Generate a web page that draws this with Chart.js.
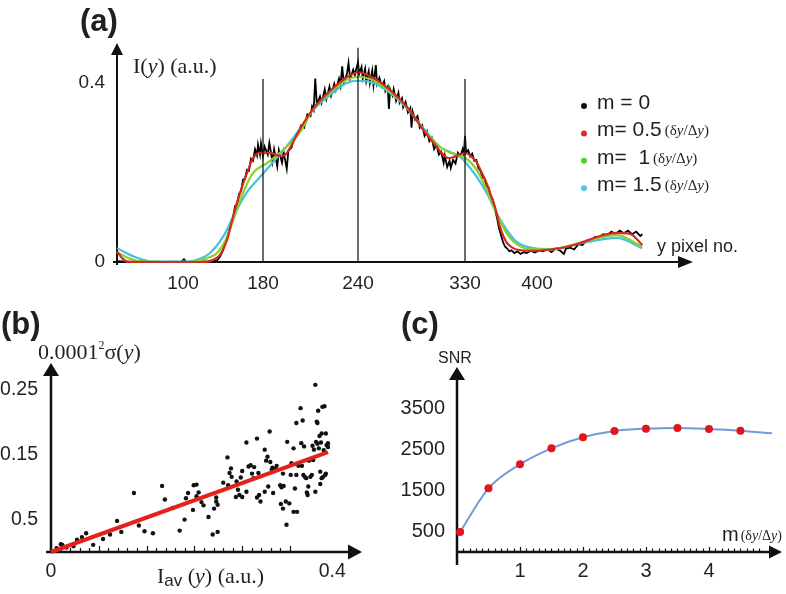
<!DOCTYPE html>
<html>
<head>
<meta charset="utf-8">
<title>Intensity profiles, noise and SNR</title>
<script src="https://cdn.jsdelivr.net/npm/chart.js@4.4.0/dist/chart.umd.min.js"></script>
<style>
  html, body { margin: 0; padding: 0; background: #fff; }
  #wrap { position: relative; width: 786px; height: 594px; overflow: hidden; }
  #wrap canvas { position: absolute; left: 0; top: 0; }
</style>
</head>
<body>
<div id="wrap">
  <canvas id="chartA" width="786" height="594"></canvas>
  <canvas id="chartB" width="786" height="594"></canvas>
  <canvas id="chartC" width="786" height="594"></canvas>
</div>
<script>
// ---------- panel (a) : intensity profile I(y) ----------
var aXTicks = [100, 180, 240, 330, 400];
var aYTicks = [0, 0.4];
var aYTickLabels = ['0', '0.4'];
var aLegendLabels = ['m = 0', 'm= 0.5', 'm=  1', 'm= 1.5'];
var aLegendUnit = [false, true, true, true];
var aMarkers = [180, 240, 330];
var aMarkerTops = [0.409, 0.479, 0.409];

// m = 0 (raw, noisy)
var aBlack = [
  [34,0.002],[42,0.001],[50,0],[58,0.002],[66,0],[74,0.001],[82,0],[90,0.001],[98,0],[101,0.006],
  [103,0.001],[110,0],[118,0.002],[124,0.001],[130,0.004],[134,0.003],[137,0.012],[140,0.026],[142,0.042],[144,0.055],
  [146,0.068],[148,0.090],[150,0.098],[152,0.125],[154,0.128],[156,0.152],[158,0.158],[160,0.184],[162,0.186],[164,0.206],
  [166,0.204],[168,0.231],[170,0.226],[172,0.252],[174,0.238],[175,0.262],[177,0.240],[178,0.265],[180,0.236],[181,0.258],
  [183,0.240],[184,0.266],[186,0.224],[187,0.252],[189,0.214],[190,0.250],[192,0.222],[193,0.246],[195,0.208],[196,0.248],
  [198,0.256],[200,0.280],[202,0.284],[204,0.305],[206,0.300],[208,0.330],[210,0.326],[211,0.348],[212,0.340],[213,0.410],
  [214,0.352],[216,0.370],[217,0.356],[219,0.386],[220,0.364],[222,0.392],[223,0.372],[225,0.398],[226,0.384],[228,0.410],
  [229,0.394],[230,0.437],[231,0.402],[233,0.420],[234,0.445],[235,0.410],[237,0.430],[238,0.418],[240,0.447],[241,0.420],
  [243,0.436],[244,0.410],[246,0.432],[247,0.404],[249,0.426],[250,0.400],[252,0.428],[253,0.396],[255,0.440],[256,0.398],
  [258,0.412],[260,0.392],[262,0.404],[263,0.382],[265,0.392],[266,0.342],[267,0.386],[269,0.372],[270,0.386],[272,0.360],
  [274,0.378],[275,0.356],[277,0.366],[278,0.346],[280,0.358],[282,0.334],[284,0.344],[285,0.300],[286,0.336],[288,0.318],
  [290,0.326],[292,0.300],[294,0.306],[296,0.282],[298,0.292],[300,0.270],[302,0.278],[304,0.252],[306,0.262],[308,0.240],
  [310,0.246],[312,0.222],[313,0.238],[315,0.212],[317,0.226],[318,0.210],[320,0.228],[322,0.220],[324,0.244],[326,0.236],
  [328,0.252],[329,0.240],[330,0.282],[331,0.244],[333,0.250],[335,0.236],[337,0.242],[339,0.226],[341,0.228],[343,0.210],
  [345,0.204],[347,0.190],[349,0.186],[351,0.170],[353,0.166],[355,0.146],[357,0.140],[359,0.118],[361,0.100],[363,0.076],
  [365,0.060],[367,0.044],[369,0.034],[371,0.030],[373,0.024],[375,0.026],[378,0.020],[381,0.024],[384,0.018],[387,0.022],
  [390,0.020],[394,0.025],[398,0.021],[402,0.026],[406,0.024],[410,0.029],[414,0.022],[418,0.030],[422,0.026],[426,0.018],
  [428,0.030],[432,0.032],[436,0.028],[440,0.040],[444,0.038],[448,0.048],[452,0.046],[456,0.056],[460,0.054],[464,0.062],
  [468,0.060],[472,0.068],[476,0.062],[480,0.070],[484,0.064],[488,0.070],[492,0.062],[496,0.068],[500,0.058],[502,0.062]
];
// m = 0.5
var aRed = [
  [34,0.024],[39,0.009],[44,0.001],[67,0],[117,0],[127,0.002],[132,0.007],[137,0.016],[144,0.049],[150,0.101],
  [157,0.154],[164,0.199],[170,0.232],[177,0.244],[184,0.244],[189,0.239],[193,0.237],[197,0.255],[203,0.295],[212,0.344],
  [222,0.381],[233,0.413],[240.5,0.424],[253,0.411],[267,0.384],[281,0.347],[295,0.295],[306,0.258],[312,0.239],[316,0.232],
  [320,0.234],[325,0.240],[331,0.243],[336,0.236],[341,0.224],[346,0.201],[351,0.176],[355,0.150],[359,0.124],[364,0.079],
  [370,0.045],[375,0.034],[380,0.028],[396,0.025],[413,0.028],[429,0.034],[445,0.045],[461,0.058],[477,0.065],[490,0.063],
  [502,0.038]
];
// m = 1
var aGreen = [
  [34,0.022],[47,0.007],[60,0.001],[107,0],[117,0.003],[127,0.011],[134,0.020],[144,0.056],[152,0.105],[160,0.154],
  [170,0.199],[182.5,0.221],[192.6,0.250],[203.4,0.290],[211.8,0.342],[222.3,0.378],[232.9,0.407],[240.6,0.414],[252.9,0.406],[266.9,0.381],
  [281,0.346],[295,0.297],[309,0.257],[322.4,0.239],[330,0.233],[341.4,0.206],[351.1,0.161],[360.8,0.109],[370.5,0.064],[380.2,0.040],
  [396.4,0.028],[412.6,0.028],[445,0.045],[477.4,0.060],[501.7,0.034]
];
// m = 1.5
var aCyan = [
  [34,0.031],[52,0.011],[70,0.001],[104,0.001],[117,0.007],[127,0.020],[140,0.056],[152,0.109],[164,0.156],[177,0.190],
  [186,0.222],[193,0.250],[201.3,0.288],[211.8,0.340],[222.3,0.373],[232.9,0.400],[240.6,0.405],[252.9,0.400],[266.9,0.378],[281,0.344],
  [295,0.299],[309,0.257],[317.4,0.246],[325.8,0.235],[330,0.224],[341.4,0.190],[351.1,0.154],[360.8,0.109],[370.5,0.072],[380.2,0.045],
  [396.4,0.031],[412.6,0.029],[445,0.043],[477.4,0.054],[501.7,0.031]
];

// ---------- panel (b) : noise vs mean intensity ----------
var bX = [
  0.008,0.014,0.016,0.022,0.032,0.037,0.044,0.050,0.060,0.074,0.084,0.094,0.100,0.118,0.125,0.133,0.145,0.158,0.162,0.173,
  0.183,0.190,0.192,0.195,0.202,0.203,0.207,0.207,0.210,0.214,0.217,0.224,0.230,0.237,0.232,0.235,0.237,0.235,0.245,0.251,
  0.252,0.254,0.256,0.257,0.263,0.264,0.266,0.268,0.270,0.272,0.272,0.278,0.278,0.281,0.284,0.286,0.288,0.289,0.293,0.293,
  0.295,0.296,0.298,0.304,0.304,0.306,0.308,0.309,0.311,0.312,0.314,0.315,0.316,0.319,0.321,0.326,0.327,0.328,0.330,0.330,
  0.331,0.334,0.335,0.336,0.339,0.341,0.342,0.345,0.345,0.347,0.349,0.349,0.350,0.352,0.355,0.356,0.357,0.358,0.359,0.360,
  0.361,0.363,0.364,0.365,0.366,0.367,0.369,0.371,0.372,0.373,0.374,0.376,0.376,0.377,0.378,0.379,0.379,0.380,0.381,0.382,
  0.383,0.383,0.384,0.385,0.385,0.386,0.387,0.388,0.389,0.390,0.391,0.391,0.392,0.394,0.394
];
var bY = [
  0.006,0.012,0.011,0.007,0.009,0.019,0.023,0.029,0.011,0.020,0.027,0.048,0.031,0.091,0.041,0.032,0.029,0.102,0.081,0.068,
  0.033,0.050,0.083,0.091,0.065,0.103,0.104,0.086,0.092,0.077,0.072,0.054,0.027,0.031,0.067,0.078,0.073,0.084,0.107,0.146,
  0.103,0.122,0.129,0.116,0.085,0.109,0.096,0.088,0.115,0.125,0.085,0.169,0.093,0.132,0.134,0.121,0.114,0.131,0.175,0.084,
  0.122,0.088,0.078,0.158,0.093,0.141,0.147,0.101,0.186,0.139,0.127,0.130,0.091,0.128,0.133,0.103,0.074,0.100,0.067,0.121,
  0.102,0.078,0.042,0.170,0.075,0.119,0.137,0.160,0.062,0.098,0.119,0.199,0.062,0.133,0.222,0.168,0.133,0.203,0.119,0.163,
  0.116,0.114,0.092,0.088,0.101,0.141,0.116,0.119,0.164,0.142,0.158,0.093,0.258,0.170,0.201,0.199,0.167,0.218,0.160,0.179,
  0.124,0.105,0.169,0.114,0.183,0.224,0.116,0.157,0.225,0.119,0.183,0.121,0.165,0.168,0.162
];
var bFitX = [0, 0.394];
var bFitY = [0, 0.154];
var bXTicks = [0, 0.4];
var bXTickLabels = ['0', '0.4'];
var bYTicks = [0.05, 0.15, 0.25];
var bYTickLabels = ['0.5', '0.15', '0.25'];

// ---------- panel (c) : SNR vs m ----------
var cM = [0.05, 0.5, 1, 1.5, 2, 2.5, 3, 3.5, 4, 4.5];
var cSNR = [490, 1553, 2139, 2529, 2797, 2951, 3007, 3024, 3000, 2959];
var cFitM = [0.05, 0.5, 1, 1.5, 2, 2.5, 3, 3.5, 4, 4.5, 5];
var cFitSNR = [490, 1553, 2139, 2529, 2797, 2951, 3007, 3024, 3000, 2959, 2895];
var cXTicks = [1, 2, 3, 4];
var cYTicks = [500, 1500, 2500, 3500];

// ---------- common helpers ----------
var INK = '#231f20';
var SANS = '"Liberation Sans", Arial, sans-serif';
var SERIF = '"Liberation Serif", "Times New Roman", serif';

// the hand-drawn x axis of (a) is not linear: value -> fraction of the axis length
var aXKnots = [[34, 0], [100, 0.1146], [180, 0.2535], [240, 0.4184], [330, 0.6042], [400, 0.7292], [551, 1]];

class WarpScale extends Chart.LinearScale {
  toDecimal(v) {
    var k = aXKnots;
    for (var i = 1; i < k.length; i++) {
      if (v <= k[i][0] || i === k.length - 1) {
        var t = (v - k[i - 1][0]) / (k[i][0] - k[i - 1][0]);
        return k[i - 1][1] + t * (k[i][1] - k[i - 1][1]);
      }
    }
  }
  getPixelForValue(v) {
    return this.getPixelForDecimal(this.toDecimal(v));
  }
  getValueForPixel(p) {
    var d = this.getDecimalForPixel(p), k = aXKnots;
    for (var i = 1; i < k.length; i++) {
      if (d <= k[i][1] || i === k.length - 1) {
        var t = (d - k[i - 1][1]) / (k[i][1] - k[i - 1][1]);
        return k[i - 1][0] + t * (k[i][0] - k[i - 1][0]);
      }
    }
  }
}
WarpScale.id = 'warp';
WarpScale.defaults = Chart.LinearScale.defaults;
Chart.register(WarpScale);

function pts(pairs) {
  return pairs.map(function (p) { return { x: p[0], y: p[1] }; });
}
function zip(xs, ys) {
  return xs.map(function (x, i) { return { x: x, y: ys[i] }; });
}

function axisOpts(values, labels, size, pad, fit) {
  return {
    afterBuildTicks: function (s) { s.ticks = values.map(function (v) { return { value: v }; }); },
    afterFit: fit,
    grid: { display: false, drawTicks: false },
    border: { display: false },
    ticks: {
      autoSkip: false, maxRotation: 0, padding: pad, color: INK,
      font: { family: SANS, size: size },
      callback: function (v, i) { return labels[i]; }
    }
  };
}

// text made of several runs (roman / italic / sub / sup)
function rich(ctx, x, y, parts) {
  ctx.textAlign = 'left';
  ctx.textBaseline = 'middle';
  ctx.fillStyle = INK;
  parts.forEach(function (p) {
    ctx.font = p[1];
    ctx.fillText(p[0], x, y + (p[2] || 0));
    x += ctx.measureText(p[0]).width;
  });
  return x;
}

// axis lines ending in filled arrow heads
function arrowAxes(ctx, a, o) {
  ctx.save();
  ctx.strokeStyle = '#111';
  ctx.fillStyle = '#111';
  ctx.lineWidth = o.lw;
  ctx.beginPath();
  ctx.moveTo(a.left, a.bottom + o.below);
  ctx.lineTo(a.left, a.top + o.yLen - 1);
  ctx.moveTo(a.left - o.leftExt, a.bottom);
  ctx.lineTo(a.right - o.xLen + 1, a.bottom);
  ctx.stroke();
  ctx.beginPath();
  ctx.moveTo(a.left, a.top);
  ctx.lineTo(a.left - o.yHalf, a.top + o.yLen);
  ctx.lineTo(a.left + o.yHalf, a.top + o.yLen);
  ctx.closePath();
  ctx.moveTo(a.right, a.bottom);
  ctx.lineTo(a.right - o.xLen, a.bottom - o.xHalf);
  ctx.lineTo(a.right - o.xLen, a.bottom + o.xHalf);
  ctx.closePath();
  ctx.fill();
  ctx.restore();
}

function minorTicks(ctx, chart, step, count, major, hMinor, hMajor) {
  var xs = chart.scales.x, b = chart.chartArea.bottom;
  ctx.save();
  ctx.strokeStyle = '#111';
  ctx.lineWidth = 1.2;
  ctx.beginPath();
  for (var i = 1; i <= count; i++) {
    var x = Math.round(xs.getPixelForValue(i * step)) + 0.5;
    var h = (i % major === 0) ? hMajor : hMinor;
    ctx.moveTo(x, b);
    ctx.lineTo(x, b - h);
  }
  ctx.stroke();
  ctx.restore();
}

function unitText(ctx, x, y, size) {
  var f = size + 'px ' + SERIF, fi = 'italic ' + size + 'px ' + SERIF;
  return rich(ctx, x, y, [['(\u03b4', f], ['y', fi], ['/\u0394', f], ['y', fi], [')', f]]);
}

function lineSet(data, color, width, order, smooth) {
  return {
    data: data, borderColor: color, borderWidth: width, pointRadius: 0,
    tension: 0, cubicInterpolationMode: smooth ? 'monotone' : 'default',
    fill: false, clip: false, order: order
  };
}

var common = {
  responsive: false,
  animation: false,
  events: [],
  plugins: { legend: { display: false }, tooltip: { enabled: false }, title: { display: false } }
};

// ---------- chart (a) ----------
var panelA = {
  id: 'panelA',
  beforeDatasetsDraw: function (chart) {
    arrowAxes(chart.ctx, chart.chartArea, { lw: 2, below: 3, leftExt: 4, yLen: 12, yHalf: 6, xLen: 15, xHalf: 6 });
  },
  afterDraw: function (chart) {
    var ctx = chart.ctx;
    ctx.save();
    rich(ctx, 80, 22, [['(a)', 'bold 31px ' + SANS]]);
    rich(ctx, 133, 67, [['I(', '22px ' + SERIF], ['y', 'italic 22px ' + SERIF], [') (a.u.)', '22px ' + SERIF]]);
    rich(ctx, 657, 247, [['y pixel no.', '18px ' + SANS]]);
    var dots = ['#111', '#e0261f', '#4fd12a', '#56c5e6'];
    aLegendLabels.forEach(function (lab, i) {
      var y = 103 + i * 27.4;
      ctx.fillStyle = dots[i];
      ctx.beginPath();
      ctx.arc(584, y + 3, 3, 0, Math.PI * 2);
      ctx.fill();
      var end = rich(ctx, 597, y, [[lab, '21px ' + SANS]]);
      if (aLegendUnit[i]) unitText(ctx, end + 3, y + 1, 15);
    });
    ctx.restore();
  }
};

var aSets = aMarkers.map(function (m, i) {
  return lineSet([{ x: m, y: 0 }, { x: m, y: aMarkerTops[i] }], '#1c1c1c', 1.3, 0, false);
});
aSets.push(lineSet(pts(aRed), '#d42a20', 2.2, 1, true));
aSets.push(lineSet(pts(aGreen), '#8ad02c', 2.2, 2, true));
aSets.push(lineSet(pts(aCyan), '#44c2dc', 2.2, 3, true));
aSets.push(lineSet(pts(aBlack), '#000', 1.8, 4, false));

new Chart(document.getElementById('chartA'), {
  type: 'line',
  data: { datasets: aSets },
  options: Object.assign({}, common, {
    layout: { padding: { left: 0, top: 43, right: 93, bottom: 0 } },
    scales: {
      x: Object.assign({ type: 'warp', min: 34, max: 551 },
        axisOpts(aXTicks, aXTicks.map(String), 19, 10, function (s) { s.height = 594 - 262; })),
      y: Object.assign({ type: 'linear', min: 0, max: 0.4894 },
        axisOpts(aYTicks, aYTickLabels, 19, 12, function (s) { s.width = 117; }))
    }
  }),
  plugins: [panelA]
});

// ---------- chart (b) ----------
var panelB = {
  id: 'panelB',
  beforeDatasetsDraw: function (chart) {
    arrowAxes(chart.ctx, chart.chartArea, { lw: 2.5, below: 1, leftExt: 5, yLen: 13, yHalf: 8, xLen: 14, xHalf: 7.5 });
    minorTicks(chart.ctx, chart, 0.0136, 25, 5, 4, 6);
  },
  afterDraw: function (chart) {
    var ctx = chart.ctx;
    ctx.save();
    rich(ctx, 1, 325, [['(b)', 'bold 31px ' + SANS]]);
    rich(ctx, 38, 353, [['0.0001', '22px ' + SERIF], ['2', '12px ' + SERIF, -7], ['\u03c3(', '22px ' + SERIF],
      ['y', 'italic 22px ' + SERIF], [')', '22px ' + SERIF]]);
    rich(ctx, 157, 577, [['I', '22px ' + SERIF], ['av', '17px ' + SANS, 4], [' (', '22px ' + SERIF],
      ['y', 'italic 22px ' + SERIF], [') (a.u.)', '22px ' + SERIF]]);
    ctx.restore();
  }
};

new Chart(document.getElementById('chartB'), {
  type: 'scatter',
  data: {
    datasets: [
      { data: zip(bFitX, bFitY), showLine: true, borderColor: '#e3231b', borderWidth: 4, pointRadius: 0, clip: false, order: 0 },
      { data: zip(bX, bY), pointRadius: 2.2, backgroundColor: '#111', borderWidth: 0, clip: false, order: 1 }
    ]
  },
  options: Object.assign({}, common, {
    layout: { padding: { left: 0, top: 363, right: 424, bottom: 0 } },
    scales: {
      x: Object.assign({ type: 'linear', min: 0, max: 0.4424 },
        axisOpts(bXTicks, bXTickLabels, 19.5, 8, function (s) { s.height = 594 - 552; })),
      y: Object.assign({ type: 'linear', min: 0, max: 0.2917 },
        axisOpts(bYTicks, bYTickLabels, 19.5, 13, function (s) { s.width = 51; }))
    }
  }),
  plugins: [panelB]
});

// ---------- chart (c) ----------
var panelC = {
  id: 'panelC',
  beforeDatasetsDraw: function (chart) {
    arrowAxes(chart.ctx, chart.chartArea, { lw: 2.5, below: 13, leftExt: 0, yLen: 13, yHalf: 8, xLen: 13, xHalf: 6.5 });
    minorTicks(chart.ctx, chart, 0.1, 48, 10, 3.5, 5);
  },
  afterDraw: function (chart) {
    var ctx = chart.ctx;
    ctx.save();
    rich(ctx, 401, 325, [['(c)', 'bold 31px ' + SANS]]);
    rich(ctx, 438, 359, [['SNR', '16px ' + SANS]]);
    var end = rich(ctx, 722, 535, [['m', '20px ' + SANS]]);
    unitText(ctx, end + 2, 536, 14);
    ctx.restore();
  }
};

new Chart(document.getElementById('chartC'), {
  type: 'scatter',
  data: {
    datasets: [
      { data: zip(cM, cSNR), pointRadius: 4, backgroundColor: '#e3151b', borderWidth: 0, clip: false, order: 0 },
      { data: zip(cFitM, cFitSNR), showLine: true, borderColor: '#6f9bd8', borderWidth: 2, pointRadius: 0,
        cubicInterpolationMode: 'monotone', clip: false, order: 1 }
    ]
  },
  options: Object.assign({}, common, {
    layout: { padding: { left: 0, top: 367, right: 4, bottom: 0 } },
    scales: {
      x: Object.assign({ type: 'linear', min: 0, max: 5.16 },
        axisOpts(cXTicks, cXTicks.map(String), 20, 7, function (s) { s.height = 594 - 552; })),
      y: Object.assign({ type: 'linear', min: 0, max: 4512 },
        axisOpts(cYTicks, cYTicks.map(String), 20, 12, function (s) { s.width = 457; }))
    }
  }),
  plugins: [panelC]
});
</script>
</body>
</html>
